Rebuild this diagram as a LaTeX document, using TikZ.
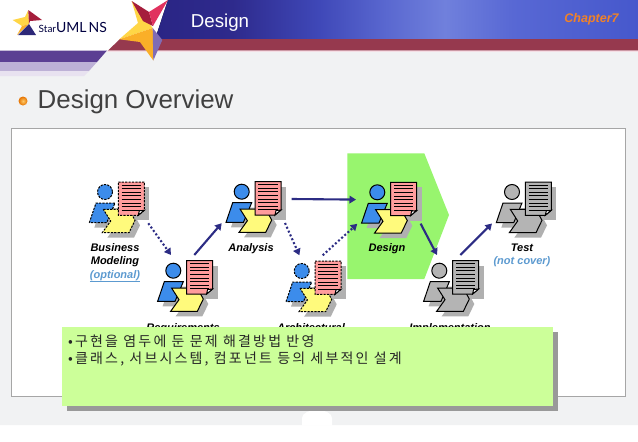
\documentclass[tikz,border=0pt]{standalone}
\usepackage{fontspec}
\setmainfont{Liberation Sans}
\newfontfamily\cjk[LetterSpace=15.5]{Noto Sans CJK KR}
\newfontfamily\logofont{Lato}
\usetikzlibrary{arrows.meta}
\definecolor{bodyblue}{HTML}{3C8CEB}
\definecolor{docpink}{HTML}{FF9C9C}
\definecolor{yelw}{HTML}{FFFA7C}
\definecolor{gfig}{HTML}{B4B4B4}
\definecolor{shd}{HTML}{B0B0B0}
\definecolor{navy}{HTML}{2C2C84}
\definecolor{linkblue}{HTML}{5C9AD0}
\definecolor{pageg}{HTML}{F1F2F3}
\definecolor{hA}{HTML}{2A2585}
\definecolor{hB}{HTML}{2E2A8C}
\definecolor{hC}{HTML}{3F48B8}
\definecolor{hD}{HTML}{5A68D0}
\definecolor{hE}{HTML}{7080DC}
\definecolor{hF}{HTML}{5868D4}
\definecolor{hG}{HTML}{4658CC}
\definecolor{bandred}{HTML}{96394E}
\definecolor{bandpink}{HTML}{F8D6DE}
\definecolor{bandp1}{HTML}{5B3F93}
\definecolor{bandp2}{HTML}{BDB1D6}
\definecolor{bandp3}{HTML}{E8E2F0}
\definecolor{stY}{HTML}{FFD646}
\definecolor{stR}{HTML}{A51E3C}
\definecolor{stP}{HTML}{E1325F}
\definecolor{stO}{HTML}{FAAF28}
\definecolor{stV}{HTML}{806CB4}
\definecolor{stN}{HTML}{2D2878}
\definecolor{chapo}{HTML}{F08228}
\definecolor{phase}{HTML}{98F56E}
\definecolor{notegreen}{HTML}{CCFF99}
\pgfdeclarehorizontalshading{hdrshade}{100bp}{
 color(0bp)=(hA); color(25bp)=(hA); color(33bp)=(hB); color(42bp)=(hC); color(49bp)=(hD);
 color(55bp)=(hE); color(62bp)=(hF); color(75bp)=(hG); color(100bp)=(hG)}
\tikzset{
 fig/.style={line width=1pt,draw=black,line join=miter},
 finedash/.style={dash pattern=on 2.2pt off 1.2pt},
 lab/.style={font=\fontsize{11}{13}\bfseries\itshape\selectfont,text=black,anchor=base,inner sep=0pt},
 sublab/.style={font=\fontsize{11}{13}\bfseries\itshape\selectfont,text=linkblue,anchor=base,inner sep=0pt},
 flow/.style={navy,line width=2.1pt,-{Triangle[length=6.5pt,width=7.5pt]}},
 flowdot/.style={navy,line width=2.1pt,dash pattern=on 2pt off 2.2pt,-{Triangle[length=6.5pt,width=7.5pt]}},
 pics/actor/.style n args={5}{code={
  \fill[#4] (44.3,-5) rectangle (18.3,28.3);
  \fill[#4] (3,22.3) -- (29,22.3) -- (35,33.3) -- (29,45.7) -- (2.3,45.7) -- (10.7,34) -- cycle;
  \fill[#4] (-10.7,35.7) -- (-4,16) -- (15,16) -- (6.7,35.7) -- cycle;
  \draw[fig,#5,fill=#1] (-15.7,30.7) -- (-9,11) -- (10,11) -- (1.7,30.7) -- cycle;
  \draw[fig,#5,fill=#1] (0,0) circle (7.5);
  \draw[fig,#5,fill=#3] (-1.7,17.3) -- (24,17.3) -- (30,28.3) -- (24,40.7) -- (-2.7,40.7) -- (5.7,29) -- cycle;
  \draw[fig,#5,fill=#2] (13.3,-10) -- (39.3,-10) -- (39.3,18.3) -- (33.3,23.3) -- (13.3,23.3) -- cycle;
  \draw[fig,fill=white] (39.3,18.3) -- (34.3,18.8) -- (33.3,23.3) -- cycle;
  \foreach \ly in {-7,-3.4,0.2,3.8,7.4,11,14.6,18.2} \draw[line width=1pt] (16.7,\ly) -- (36,\ly);
  \coordinate (-se) at (43.3,31.3);
  \coordinate (-nw) at (-2.3,-15.7);
  \coordinate (-ne) at (21,-15.7);
  \coordinate (-sw) at (-20,31.5);
  \coordinate (-e) at (50,7.3);
  \coordinate (-w) at (-21.3,7.3);
 }}
}
\begin{document}
\begin{tikzpicture}[x=1pt,y=-1pt]
\useasboundingbox (0,0) rectangle (638,442);
\fill[white] (0,0) rectangle (638,442);
% page ground and header
\fill[pageg] (107,50) -- (638,50) -- (638,425) -- (0,425) -- (0,76) -- (83,76) -- cycle;
\fill[shading=hdrshade] (168,0) -- (638,0) -- (638,39.5) -- (155,39.5) -- cycle;
\fill[bandred] (120,39) -- (638,39) -- (638,50.5) -- (108,50.5) -- cycle;
\fill[bandpink] (108,50.5) -- (638,50.5) -- (638,51.5) -- (107,51.5) -- cycle;
\fill[bandp1] (0,50.5) -- (107,50.5) -- (97,62) -- (0,62) -- cycle;
\fill[bandp2] (0,62) -- (97,62) -- (89,71) -- (0,71) -- cycle;
\fill[bandp3] (0,71) -- (89,71) -- (84,76) -- (0,76) -- cycle;
% large star
\fill[stY] (131.7,1) -- (152.7,28) -- (119.3,39.3) -- (138,23) -- cycle;
\fill[stR] (131.7,1) -- (149,12) -- (153,26) -- (143,21) -- cycle;
\fill[stP] (168,0) -- (153,26) -- (149,12) -- cycle;
\fill[stO] (119.3,39.3) -- (152.7,28) -- (153.3,60.5) -- (140,42) -- cycle;
\fill[stV] (152.7,28) -- (162.3,40) -- (153.3,60.5) -- cycle;
% small logo star
\fill[stY] (12.7,20) -- (25,17) -- (28.3,10) -- (29,24) -- (22,26) -- cycle;
\fill[stO] (22,26) -- (29,24) -- (17,35) -- cycle;
\fill[stR] (28.3,10) -- (42,20) -- (30,21) -- (29,24) -- cycle;
\fill[stN] (29,24) -- (36,35) -- (18,35) -- cycle;
\node[anchor=base west,inner sep=0pt,text=black!75!blue] (logo) at (38.5,32.5) {\logofont\fontsize{10}{11}\selectfont Star\fontsize{14}{14}\selectfont UML\kern2pt\fontsize{14}{14}\selectfont NS};
% header text
\node[anchor=base,inner sep=0pt,text=white,font=\fontsize{18.7}{20}\selectfont] (title) at (220,27) {Design};
\node[anchor=base,inner sep=0pt,text=chapo,font=\fontsize{12.5}{14}\bfseries\itshape\selectfont] (chap) at (591.5,22.5) {Chapter7};
\shade[inner color=yellow!30!orange!60!white,outer color=orange!90!black] (23,101) circle (4.5);
\node[anchor=base west,inner sep=0pt,text=black!75,font=\fontsize{25.9}{28}\selectfont] (heading) at (37.5,108) {Design Overview};
% white panel
\draw[draw=black!35,line width=0.8pt,fill=white] (11.5,128.5) rectangle (625.5,396);
% notch
\fill[white] (302,425.5) -- (302,418) arc[start angle=180,end angle=360,x radius=15,y radius=8] -- (332,425.5) -- cycle;
% green phase
\fill[phase] (347.3,153.3) -- (424.3,153.3) -- (449,215) -- (424.3,279) -- (347.3,279) -- cycle;
% figures
\pic (biz) at (105,192) {actor={bodyblue}{docpink}{yelw}{shd}{finedash}};
\pic (req) at (173.3,270.7) {actor={bodyblue}{docpink}{yelw}{shd}{solid}};
\pic (ana) at (241.7,191.7) {actor={bodyblue}{docpink}{yelw}{shd}{solid}};
\pic (des) at (377.3,192.3) {actor={bodyblue}{docpink}{yelw}{shd}{solid}};
\pic (arc) at (301.7,271) {actor={bodyblue}{docpink}{yelw}{shd}{finedash}};
\pic (imp) at (439.3,270.7) {actor={gfig}{gfig}{gfig}{shd}{solid}};
\pic (tst) at (512,192) {actor={gfig}{gfig}{gfig}{shd}{solid}};
% connectors
\draw[flowdot] (biz-se) -- (req-nw);
\draw[flow] (req-ne) -- (ana-sw);
\draw[flow] (ana-e) -- (des-w);
\draw[flowdot] (ana-se) -- (arc-nw);
\draw[flowdot] (arc-ne) -- (des-sw);
\draw[flow] (des-se) -- (imp-nw);
\draw[flow] (imp-ne) -- (tst-sw);
% labels
\node[lab] (l1) at (115,251) {Business};
\node[lab] (l2) at (115,264) {Modeling};
\node[sublab] (l3) at (115,278) {\underline{(optional)}};
\node[lab] (l4) at (183,331) {Requirements};
\node[lab] (l5) at (251,251) {Analysis};
\node[lab] (l6) at (311,331) {Architectural};
\node[lab] (l7) at (387,251) {Design};
\node[lab] (l8) at (450,331) {Implementation};
\node[lab] (l9) at (522,251) {Test};
\node[sublab] (l10) at (522,264) {(not cover)};
% note
\fill[black!40] (67,332) rectangle (558,411);
\fill[notegreen] (62,327) rectangle (553,406);
\node[anchor=base west,inner sep=0pt,text=black!85,font=\fontsize{14}{16}\selectfont] (n1) at (68,346) {\cjk •구현을 염두에 둔 문제 해결방법 반영};
\node[anchor=base west,inner sep=0pt,text=black!85,font=\fontsize{14}{16}\selectfont] (n2) at (68,363) {\cjk •클래스, 서브시스템, 컴포넌트 등의 세부적인 설계};
\end{tikzpicture}
\end{document}
